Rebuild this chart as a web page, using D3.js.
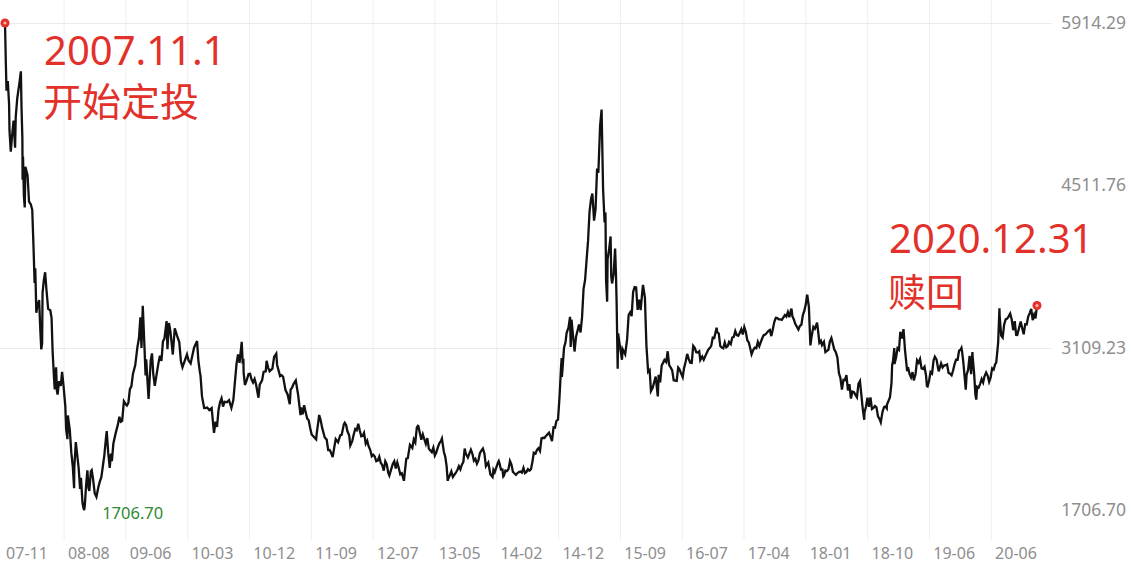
<!DOCTYPE html>
<html><head><meta charset="utf-8">
<script src="https://cdn.jsdelivr.net/npm/d3@7"></script>
<style>html,body{margin:0;padding:0;background:#fff;overflow:hidden}</style>
</head><body><svg id="c" width="1132" height="568"></svg>
<script>
// Shanghai index closes (date, close)
const series = [
["2007-11-01",5914.29],["2007-11-05",5560],["2007-11-08",5330],["2007-11-14",5412],["2007-11-20",5214],["2007-11-22",4984],["2007-11-28",4803],["2007-12-04",4940],["2007-12-11",5071],["2007-12-18",4836],["2007-12-21",5101],["2007-12-28",5262],
["2008-01-07",5393],["2008-01-14",5497],["2008-01-17",5180],["2008-01-21",4914],["2008-01-22",4559],["2008-01-24",4761],["2008-01-28",4419],["2008-02-01",4320],["2008-02-04",4672],["2008-02-14",4600],["2008-02-21",4370],["2008-02-29",4348],["2008-03-07",4300],["2008-03-13",3972],["2008-03-18",3668],["2008-03-21",3796],["2008-03-26",3411],["2008-03-31",3472],["2008-04-08",3521],["2008-04-14",3244],["2008-04-18",3094],["2008-04-22",3147],["2008-04-24",3583],["2008-04-30",3693],["2008-05-06",3761],["2008-05-12",3613],["2008-05-20",3444],["2008-05-30",3433],["2008-06-05",3366],["2008-06-10",3072],["2008-06-18",2794],["2008-06-20",2748],["2008-06-26",2939],["2008-06-30",2736],["2008-07-03",2704],["2008-07-10",2820],["2008-07-18",2779],["2008-07-24",2900],["2008-07-31",2775],["2008-08-08",2605],["2008-08-12",2400],["2008-08-18",2319],["2008-08-20",2523],["2008-08-29",2397],["2008-09-05",2202],["2008-09-12",2079],["2008-09-18",1895],["2008-09-19",2075],["2008-09-26",2293],["2008-10-09",2074],["2008-10-16",1888],["2008-10-20",1984],["2008-10-27",1771],["2008-10-31",1728],["2008-11-04",1706.70],["2008-11-07",1747],["2008-11-13",1925],["2008-11-19",2050],["2008-11-24",1897],["2008-11-28",1871],["2008-12-05",2040],["2008-12-09",2050],["2008-12-15",1979],["2008-12-23",1853],["2008-12-31",1821],
["2009-01-09",1904],["2009-01-16",1954],["2009-01-23",1990],["2009-02-06",2181],["2009-02-13",2320],["2009-02-17",2389],["2009-02-24",2200],["2009-03-03",2071],["2009-03-09",2193],["2009-03-13",2128],["2009-03-20",2281],["2009-03-31",2373],["2009-04-10",2444],["2009-04-17",2512],["2009-04-24",2470],["2009-04-30",2477],["2009-05-08",2646],["2009-05-15",2625],["2009-05-22",2610],["2009-05-29",2632],["2009-06-05",2751],["2009-06-12",2775],["2009-06-19",2880],["2009-06-30",2959],["2009-07-10",3114],["2009-07-17",3188],["2009-07-24",3372],["2009-07-29",3106],["2009-08-04",3471],["2009-08-12",3112],["2009-08-17",2870],["2009-08-20",3008],["2009-08-31",2667],["2009-09-04",2800],["2009-09-10",2998],["2009-09-16",3060],["2009-09-22",2880],["2009-09-29",2780],["2009-10-16",2976],["2009-10-23",3039],["2009-10-30",2995],["2009-11-06",3164],["2009-11-13",3187],["2009-11-23",3339],["2009-11-27",3096],["2009-12-04",3322],["2009-12-11",3247],["2009-12-22",3050],["2009-12-31",3277],
["2010-01-11",3212],["2010-01-21",3158],["2010-01-29",2989],["2010-02-05",2940],["2010-02-26",3051],["2010-03-05",3000],["2010-03-15",2973],["2010-03-31",3109],["2010-04-14",3166],["2010-04-20",3000],["2010-04-27",2900],["2010-04-30",2870],["2010-05-07",2688],["2010-05-17",2588],["2010-05-20",2587],["2010-05-31",2592],["2010-06-10",2570],["2010-06-21",2588],["2010-06-29",2427],["2010-07-02",2373],["2010-07-09",2470],["2010-07-16",2424],["2010-07-23",2572],["2010-07-30",2638],["2010-08-06",2672],["2010-08-13",2600],["2010-08-20",2642],["2010-08-31",2638],["2010-09-10",2656],["2010-09-21",2588],["2010-09-30",2656],["2010-10-15",2971],["2010-10-22",3051],["2010-10-29",2978],["2010-11-08",3159],["2010-11-12",3000],["2010-11-16",3014],["2010-11-17",2894],["2010-11-23",2787],["2010-11-30",2820],["2010-12-10",2882],["2010-12-17",2884],["2010-12-24",2834],["2010-12-31",2808],
["2011-01-07",2838],["2011-01-14",2791],["2011-01-25",2677],["2011-01-31",2790],["2011-02-11",2827],["2011-02-18",2900],["2011-02-28",2905],["2011-03-04",2996],["2011-03-11",2937],["2011-03-18",2906],["2011-03-31",2928],["2011-04-08",3030],["2011-04-18",3057],["2011-04-22",2960],["2011-04-29",2911],["2011-05-06",2863],["2011-05-13",2871],["2011-05-20",2858],["2011-05-31",2743],["2011-06-10",2705],["2011-06-20",2621],["2011-06-24",2746],["2011-06-30",2762],["2011-07-08",2797],["2011-07-18",2826],["2011-07-22",2780],["2011-07-29",2701],["2011-08-09",2526],["2011-08-12",2593],["2011-08-19",2534],["2011-08-26",2612],["2011-08-31",2568],["2011-09-09",2497],["2011-09-16",2482],["2011-09-23",2416],["2011-09-30",2359],["2011-10-21",2317],["2011-10-24",2375],["2011-10-31",2468],["2011-11-04",2528],["2011-11-11",2481],["2011-11-18",2416],["2011-11-30",2333],["2011-12-09",2315],["2011-12-16",2224],["2011-12-23",2225],["2011-12-30",2199],
["2012-01-06",2163],["2012-01-13",2244],["2012-01-20",2319],["2012-01-31",2292],["2012-02-10",2352],["2012-02-17",2357],["2012-02-27",2447],["2012-03-02",2460],["2012-03-09",2439],["2012-03-14",2391],["2012-03-23",2350],["2012-03-28",2264],["2012-04-06",2302],["2012-04-13",2359],["2012-04-20",2406],["2012-04-27",2396],["2012-05-04",2452],["2012-05-11",2395],["2012-05-18",2344],["2012-05-25",2348],["2012-05-31",2373],["2012-06-08",2281],["2012-06-15",2306],["2012-06-21",2260],["2012-06-29",2225],["2012-07-06",2171],["2012-07-13",2185],["2012-07-20",2169],["2012-07-27",2128],["2012-08-03",2133],["2012-08-10",2168],["2012-08-17",2115],["2012-08-24",2093],["2012-08-31",2047],["2012-09-07",2128],["2012-09-14",2101],["2012-09-21",2026],["2012-09-26",2004],["2012-10-12",2104],["2012-10-19",2128],["2012-10-26",2066],["2012-11-02",2117],["2012-11-09",2069],["2012-11-16",2015],["2012-11-23",2024],["2012-11-30",1980],["2012-12-03",1959],["2012-12-07",2032],["2012-12-14",2150],["2012-12-21",2154],["2012-12-31",2269],
["2013-01-11",2242],["2013-01-18",2317],["2013-01-25",2291],["2013-02-01",2419],["2013-02-06",2434],["2013-02-08",2432],["2013-02-22",2314],["2013-03-01",2360],["2013-03-08",2318],["2013-03-15",2278],["2013-03-22",2328],["2013-03-29",2237],["2013-04-03",2226],["2013-04-12",2206],["2013-04-19",2245],["2013-04-26",2177],["2013-05-03",2205],["2013-05-10",2247],["2013-05-17",2283],["2013-05-24",2302],["2013-05-29",2324],["2013-06-07",2210],["2013-06-14",2162],["2013-06-20",2084],["2013-06-25",1959],["2013-06-28",1979],["2013-07-05",2007],["2013-07-12",2040],["2013-07-19",1992],["2013-07-26",2011],["2013-08-02",2029],["2013-08-09",2052],["2013-08-16",2085],["2013-08-23",2058],["2013-08-30",2098],["2013-09-06",2122],["2013-09-12",2237],["2013-09-18",2191],["2013-09-27",2160],["2013-10-11",2228],["2013-10-18",2193],["2013-10-25",2133],["2013-11-01",2149],["2013-11-08",2106],["2013-11-15",2135],["2013-11-22",2197],["2013-11-29",2220],["2013-12-06",2238],["2013-12-13",2196],["2013-12-20",2085],["2013-12-31",2116],
["2014-01-10",2013],["2014-01-20",1991],["2014-01-24",2054],["2014-01-30",2033],["2014-02-14",2115],["2014-02-18",2130],["2014-02-21",2113],["2014-02-28",2056],["2014-03-07",2057],["2014-03-11",1997],["2014-03-14",2004],["2014-03-21",2047],["2014-03-28",2042],["2014-04-04",2058],["2014-04-11",2130],["2014-04-18",2098],["2014-04-25",2036],["2014-04-30",2026],["2014-05-09",2011],["2014-05-16",2026],["2014-05-23",2034],["2014-05-30",2039],["2014-06-06",2029],["2014-06-13",2070],["2014-06-20",2026],["2014-06-27",2036],["2014-07-04",2060],["2014-07-11",2047],["2014-07-18",2059],["2014-07-25",2127],["2014-07-31",2201],["2014-08-08",2194],["2014-08-15",2226],["2014-08-22",2241],["2014-08-29",2217],["2014-09-05",2326],["2014-09-12",2331],["2014-09-19",2329],["2014-09-26",2347],["2014-10-10",2375],["2014-10-17",2341],["2014-10-24",2302],["2014-10-31",2420],["2014-11-07",2418],["2014-11-14",2479],["2014-11-21",2487],["2014-11-28",2683],["2014-12-05",2938],["2014-12-08",3020],["2014-12-09",2856],["2014-12-12",2928],["2014-12-19",3108],["2014-12-26",3158],["2014-12-31",3235],
["2015-01-09",3285],["2015-01-16",3376],["2015-01-19",3116],["2015-01-23",3351],["2015-01-30",3210],["2015-02-06",3076],["2015-02-13",3204],["2015-02-27",3310],["2015-03-06",3241],["2015-03-13",3373],["2015-03-20",3617],["2015-03-27",3692],["2015-04-03",3864],["2015-04-10",4034],["2015-04-17",4287],["2015-04-24",4394],["2015-04-30",4441],["2015-05-08",4206],["2015-05-15",4308],["2015-05-22",4657],["2015-05-28",4620],["2015-06-05",5023],["2015-06-12",5166],["2015-06-19",4478],["2015-06-26",4192],["2015-06-30",4277],["2015-07-03",3687],["2015-07-08",3507],["2015-07-10",3877],["2015-07-17",3957],["2015-07-24",4070],["2015-07-27",3725],["2015-07-31",3664],["2015-08-07",3744],["2015-08-14",3965],["2015-08-18",3748],["2015-08-21",3507],["2015-08-26",2927],["2015-08-28",3232],["2015-09-02",3166],["2015-09-15",3005],["2015-09-18",3097],["2015-09-30",3052],["2015-10-09",3183],["2015-10-16",3391],["2015-10-23",3414],["2015-10-30",3382],["2015-11-06",3590],["2015-11-13",3632],["2015-11-20",3630],["2015-11-27",3436],["2015-12-04",3524],["2015-12-11",3434],["2015-12-18",3578],["2015-12-22",3651],["2015-12-31",3539],
["2016-01-04",3297],["2016-01-07",3125],["2016-01-15",2901],["2016-01-22",2916],["2016-01-28",2735],["2016-02-05",2763],["2016-02-19",2860],["2016-02-29",2688],["2016-03-04",2874],["2016-03-11",2810],["2016-03-18",2955],["2016-03-25",2980],["2016-03-31",3003],["2016-04-08",2985],["2016-04-15",3078],["2016-04-22",2959],["2016-04-29",2938],["2016-05-06",2913],["2016-05-13",2828],["2016-05-20",2825],["2016-05-27",2822],["2016-06-03",2938],["2016-06-08",2927],["2016-06-17",2885],["2016-06-24",2854],["2016-06-30",2930],["2016-07-08",2989],["2016-07-15",3055],["2016-07-22",3013],["2016-07-29",2979],["2016-08-05",2977],["2016-08-12",3125],["2016-08-19",3108],["2016-08-26",3070],["2016-09-02",3067],["2016-09-09",3078],["2016-09-14",3002],["2016-09-23",3033],["2016-09-30",3005],["2016-10-14",3064],["2016-10-21",3091],["2016-10-28",3105],["2016-11-04",3125],["2016-11-11",3196],["2016-11-18",3192],["2016-11-29",3282],["2016-12-02",3244],["2016-12-09",3232],["2016-12-16",3123],["2016-12-23",3110],["2016-12-30",3104],
["2017-01-06",3154],["2017-01-13",3113],["2017-01-20",3123],["2017-01-26",3159],["2017-02-03",3140],["2017-02-10",3197],["2017-02-17",3202],["2017-02-24",3253],["2017-03-03",3218],["2017-03-10",3212],["2017-03-17",3237],["2017-03-24",3269],["2017-03-31",3223],["2017-04-07",3287],["2017-04-14",3246],["2017-04-21",3173],["2017-04-28",3155],["2017-05-05",3103],["2017-05-11",3052],["2017-05-19",3091],["2017-05-26",3110],["2017-06-02",3105],["2017-06-09",3158],["2017-06-16",3123],["2017-06-23",3158],["2017-06-30",3192],["2017-07-07",3218],["2017-07-14",3222],["2017-07-21",3237],["2017-07-28",3253],["2017-08-04",3262],["2017-08-11",3209],["2017-08-18",3268],["2017-08-25",3332],["2017-09-01",3367],["2017-09-08",3365],["2017-09-15",3354],["2017-09-22",3353],["2017-09-29",3349],["2017-10-13",3391],["2017-10-20",3378],["2017-10-27",3417],["2017-11-03",3372],["2017-11-10",3432],["2017-11-13",3447],["2017-11-17",3382],["2017-11-24",3353],["2017-11-30",3317],["2017-12-08",3290],["2017-12-15",3266],["2017-12-22",3297],["2017-12-29",3307],
["2018-01-05",3391],["2018-01-12",3429],["2018-01-19",3488],["2018-01-24",3559],["2018-01-26",3558],["2018-02-02",3462],["2018-02-09",3129],["2018-02-14",3199],["2018-02-23",3289],["2018-03-02",3273],["2018-03-09",3307],["2018-03-12",3326],["2018-03-16",3270],["2018-03-23",3152],["2018-03-30",3169],["2018-04-04",3132],["2018-04-13",3160],["2018-04-20",3071],["2018-04-27",3082],["2018-05-04",3091],["2018-05-11",3163],["2018-05-18",3193],["2018-05-25",3141],["2018-05-31",3095],["2018-06-08",3067],["2018-06-15",3022],["2018-06-22",2890],["2018-06-29",2847],["2018-07-06",2747],["2018-07-13",2831],["2018-07-20",2829],["2018-07-27",2873],["2018-08-03",2740],["2018-08-10",2795],["2018-08-17",2669],["2018-08-24",2730],["2018-08-31",2725],["2018-09-07",2702],["2018-09-14",2681],["2018-09-21",2797],["2018-09-28",2821],["2018-10-11",2583],["2018-10-18",2486],["2018-10-19",2550],["2018-10-26",2599],["2018-11-02",2676],["2018-11-09",2599],["2018-11-16",2679],["2018-11-23",2579],["2018-11-30",2588],["2018-12-07",2606],["2018-12-14",2594],["2018-12-21",2516],["2018-12-28",2494],
["2019-01-03",2464],["2019-01-11",2554],["2019-01-18",2596],["2019-01-25",2601],["2019-01-31",2585],["2019-02-01",2618],["2019-02-15",2682],["2019-02-22",2804],["2019-02-25",2961],["2019-03-01",2994],["2019-03-07",3106],["2019-03-08",2969],["2019-03-15",3022],["2019-03-22",3104],["2019-03-29",3090],["2019-04-04",3246],["2019-04-12",3189],["2019-04-19",3270],["2019-04-26",3086],["2019-05-06",2906],["2019-05-10",2939],["2019-05-17",2882],["2019-05-24",2853],["2019-05-31",2898],["2019-06-06",2827],["2019-06-14",2882],["2019-06-21",3001],["2019-06-28",2979],["2019-07-05",3011],["2019-07-12",2930],["2019-07-19",2925],["2019-07-26",2944],["2019-08-02",2868],["2019-08-06",2777],["2019-08-09",2774],["2019-08-16",2824],["2019-08-23",2898],["2019-08-30",2886],["2019-09-06",2999],["2019-09-12",3031],["2019-09-20",3006],["2019-09-27",2932],["2019-09-30",2905],["2019-10-11",2973],["2019-10-18",2938],["2019-10-25",2955],["2019-11-01",2958],["2019-11-08",2964],["2019-11-15",2891],["2019-11-22",2885],["2019-11-29",2871],["2019-12-06",2912],["2019-12-13",2968],["2019-12-20",3005],["2019-12-27",3005],["2019-12-31",3050],
["2020-01-03",3083],["2020-01-10",3092],["2020-01-14",3107],["2020-01-17",3075],["2020-01-23",2977],["2020-02-03",2746],["2020-02-07",2876],["2020-02-14",2917],["2020-02-21",3039],["2020-02-28",2880],["2020-03-05",3071],["2020-03-06",3034],["2020-03-13",2887],["2020-03-19",2702],["2020-03-23",2660],["2020-03-27",2772],["2020-04-03",2764],["2020-04-10",2797],["2020-04-17",2839],["2020-04-24",2809],["2020-04-30",2860],["2020-05-08",2895],["2020-05-15",2868],["2020-05-22",2814],["2020-05-29",2852],["2020-06-05",2930],["2020-06-12",2920],["2020-06-19",2967],["2020-06-24",2980],["2020-07-03",3153],["2020-07-09",3450],["2020-07-10",3384],["2020-07-17",3214],["2020-07-24",3197],["2020-07-31",3310],["2020-08-07",3354],["2020-08-14",3360],["2020-08-21",3380],["2020-08-28",3404],["2020-09-04",3355],["2020-09-11",3260],["2020-09-18",3338],["2020-09-25",3219],["2020-09-30",3218],["2020-10-16",3336],["2020-10-23",3278],["2020-10-30",3225],["2020-11-06",3312],["2020-11-13",3310],["2020-11-20",3378],["2020-11-27",3408],["2020-12-04",3444],["2020-12-11",3347],["2020-12-18",3395],["2020-12-24",3363],["2020-12-31",3473.07]
];
const yTicks = [5914.29, 4511.76, 3109.23, 1706.70];
const yGridValues = [5914.29, 3109.23];
const xLabels = ["07-11","08-08","09-06","10-03","10-12","11-09","12-07","13-05","14-02","14-12","15-09","16-07","17-04","18-01","18-10","19-06","20-06"];
const startNote = ["2007.11.1", "开始定投"];
const endNote = ["2020.12.31", "赎回"];
const minLabel = "1706.70";

const W = 1132, H = 568;
const svg = d3.select("#c");
const parse = d3.timeParse("%Y-%m-%d");
const data = series.map(d => ({date: parse(d[0]), v: d[1]}));

const x = d3.scaleTime().domain([data[0].date, data[data.length-1].date]).range([5, 1037]);
const y = d3.scaleLinear().domain([1706.70, 5914.29]).range([510, 23]);
const xl = d3.scalePoint().domain(xLabels).range([27, 1016]);
const step = xl.step();

svg.append("rect").attr("width", W).attr("height", H).attr("fill", "#fff");

// vertical grid
svg.append("g").selectAll("line").data(xLabels.slice(0, -1)).join("line")
  .attr("x1", d => xl(d) + step*0.6).attr("x2", d => xl(d) + step*0.6)
  .attr("y1", 0).attr("y2", 540)
  .attr("stroke", "#efefef").attr("stroke-width", 1);

// horizontal grid
svg.append("g").selectAll("line").data(yGridValues).join("line")
  .attr("x1", 0).attr("x2", 1052)
  .attr("y1", d => Math.round(y(d)) + 0.5).attr("y2", d => Math.round(y(d)) + 0.5)
  .attr("stroke", "#ebebeb").attr("stroke-width", 1);

// y labels
svg.append("g").selectAll("text").data(yTicks).join("text")
  .attr("x", 1126).attr("y", d => y(d)).attr("dy", "0.35em")
  .attr("text-anchor", "end")
  .attr("font-family", "Noto Sans, sans-serif").attr("font-size", 17.5)
  .attr("fill", "#8e8e8e")
  .text(d => d.toFixed(2));

// x labels
svg.append("g").selectAll("text").data(xLabels).join("text")
  .attr("x", d => xl(d)).attr("y", 559)
  .attr("text-anchor", "middle")
  .attr("font-family", "Noto Sans, sans-serif").attr("font-size", 16)
  .attr("fill", "#8e8e8e")
  .text(d => d);

// line
const line = d3.line().x(d => x(d.date)).y(d => y(d.v));
svg.append("path").datum(data)
  .attr("d", line).attr("fill", "none")
  .attr("stroke", "#111").attr("stroke-width", 2.3).attr("stroke-linejoin", "miter");

// min label
const minPt = data.reduce((a, b) => b.v < a.v ? b : a);
svg.append("text")
  .attr("x", x(minPt.date) + 18).attr("y", y(minPt.v) + 9)
  .attr("font-family", "Noto Sans, sans-serif").attr("font-size", 16.5)
  .attr("fill", "#2e8a34")
  .text(minLabel);

// endpoint dots
const ends = [data[0], data[data.length-1]];
svg.append("g").selectAll("circle.o").data(ends).join("circle")
  .attr("cx", d => x(d.date)).attr("cy", d => y(d.v)).attr("r", 4.5)
  .attr("fill", "#e5302a");
svg.append("g").selectAll("circle.i").data(ends).join("circle")
  .attr("cx", d => x(d.date)).attr("cy", d => y(d.v)).attr("r", 1.6)
  .attr("fill", "#f7b3ab");

// annotations (each as one text block with two lines)
const red = "#e2302a";
function note(lines, x0, y1, y2, s1, s2) {
  const t = svg.append("text").attr("fill", red);
  t.append("tspan").attr("x", x0).attr("y", y1)
    .attr("font-family", "'Noto Sans', sans-serif").attr("font-size", s1).text(lines[0]);
  t.append("tspan").attr("x", x0 - 1).attr("y", y2)
    .attr("font-family", "'Noto Sans CJK SC', sans-serif").attr("font-size", s2).text(lines[1]);
}
note(startNote, 44, 65, 116, 40, 39);
note(endNote, 889, 253, 306, 40, 38);
</script>
</body></html>
